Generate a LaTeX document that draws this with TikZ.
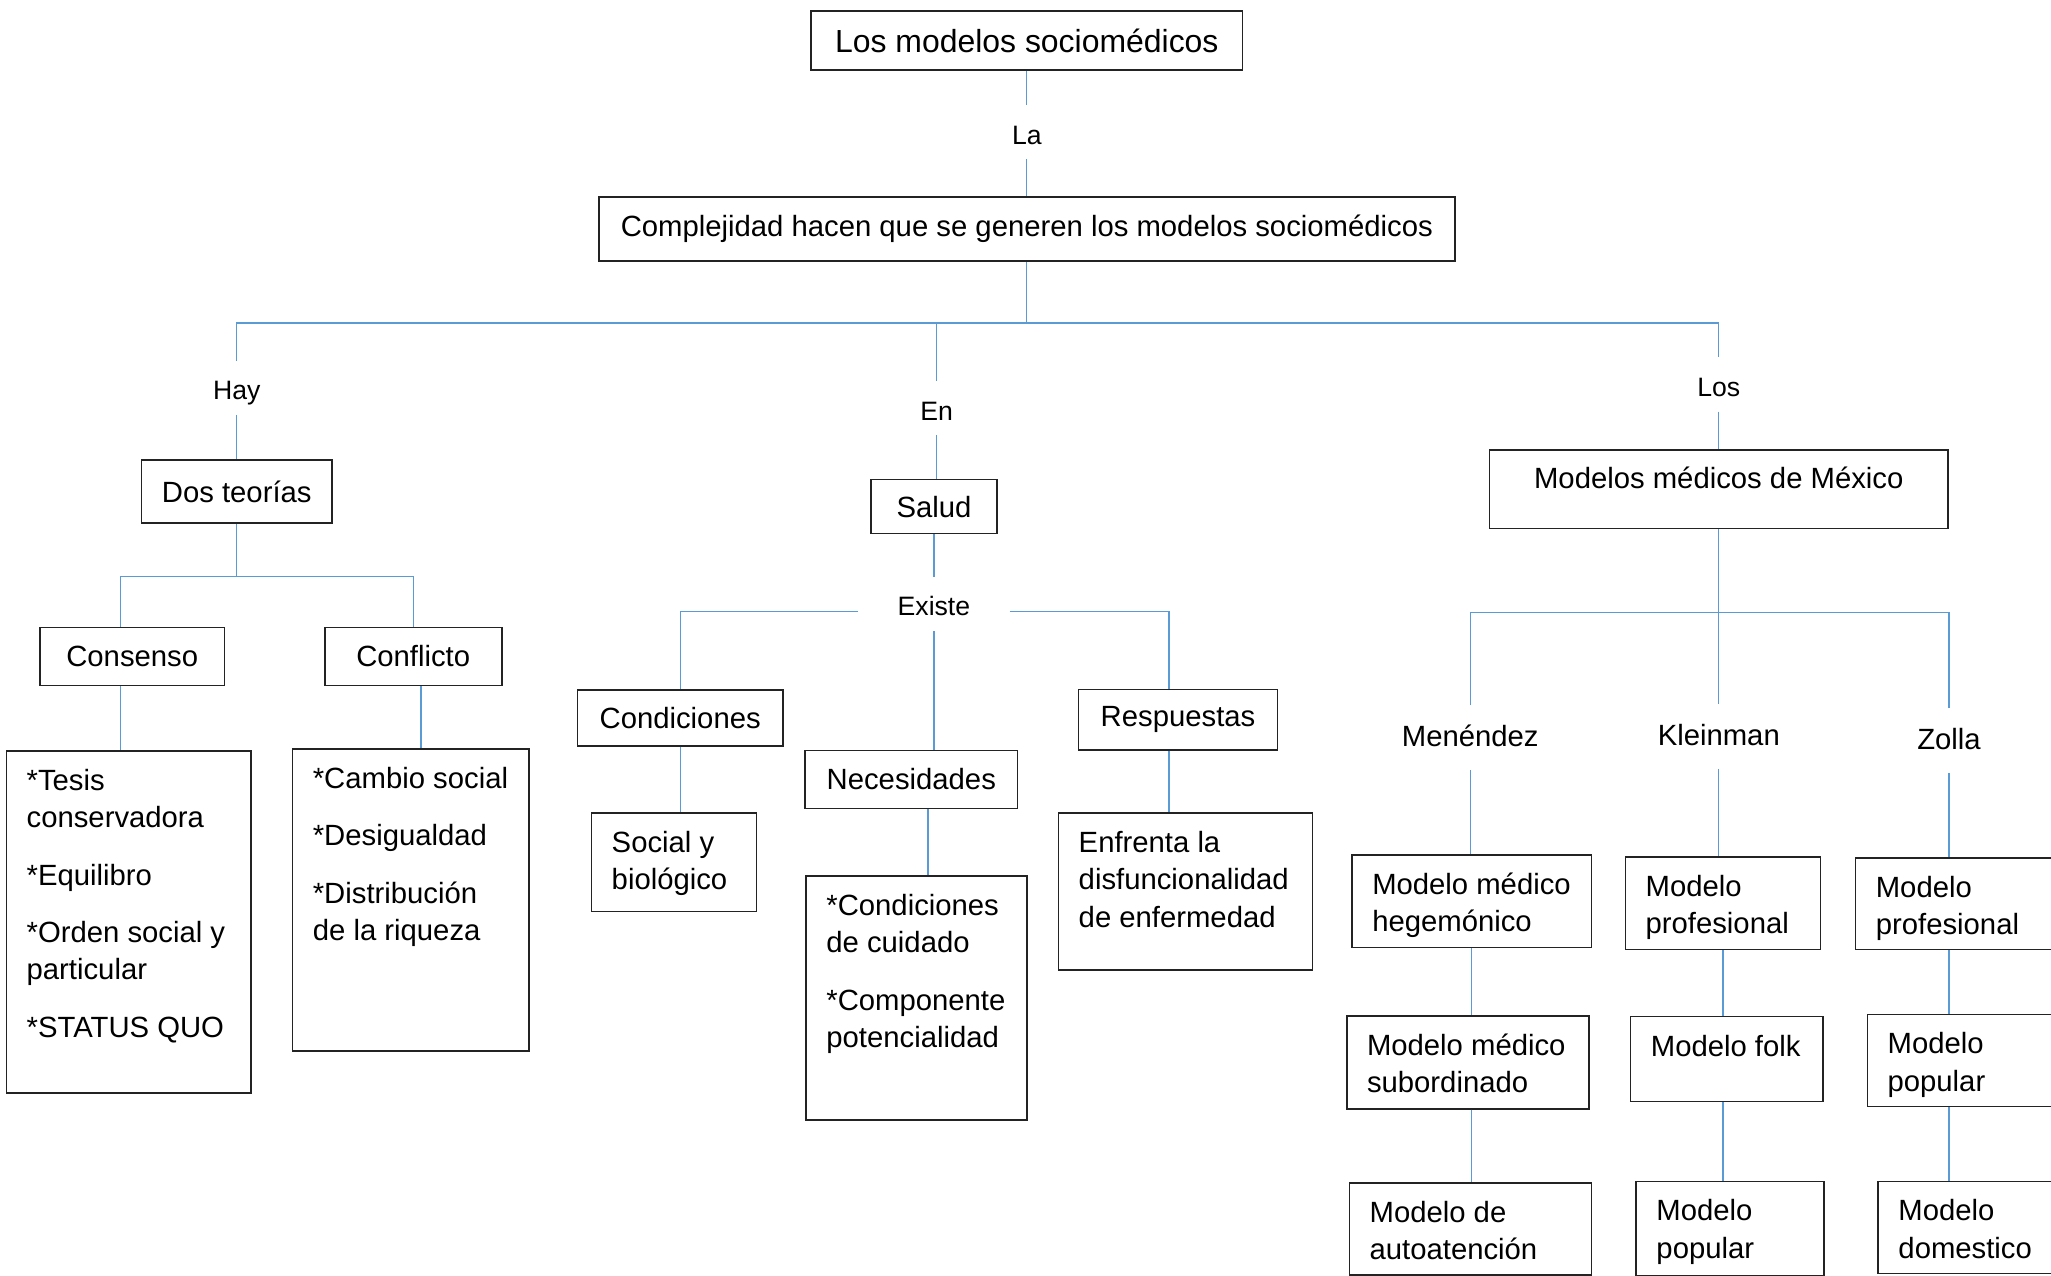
\documentclass[tikz,border=0pt]{standalone}
\usepackage{fontspec}
\setmainfont{Liberation Sans}
\definecolor{linkblue}{RGB}{91,155,213}
\definecolor{boxline}{RGB}{35,35,35}
\newcommand{\titlesize}{\fontsize{12}{14.4}\selectfont}
\newcommand{\boxsize}{\fontsize{11}{14}\selectfont}
\newcommand{\linksize}{\fontsize{10}{12}\selectfont}
% text set at the top of a box: height, width, lines
\newcommand{\boxtext}[3]{\parbox[t][#1][t]{#2}{\leftskip=7.6pt\rule{0pt}{14.8pt}#3}}
\tikzset{
    concept/.style={
        rectangle, draw=boxline, line width=0.6pt,
        inner sep=0pt, font=\boxsize
    },
    listbox/.style={concept, anchor=north west},
    link/.style={draw=linkblue, line width=0.5pt},
    linkword/.style={
        inner sep=0pt, minimum height=20pt,
        text height=9.3pt, text depth=0.2pt, font=\linksize
    },
    author/.style={
        inner sep=0pt, minimum height=24pt,
        text height=8.6pt, text depth=1.7pt, font=\boxsize
    }
}

\begin{document}
\begin{tikzpicture}[x=0.01728cm, y=-0.01728cm]
\useasboundingbox (0,0) rectangle (1568,975);

% Top of the map
\node[concept, minimum width=162.1pt, minimum height=22pt, font=\titlesize] (top) at (785,31) {Los modelos sociomédicos};
\node[linkword] (la) at (785,101) {La};
\node[concept, minimum width=321.6pt, minimum height=24.2pt] (cplx) at (785,175) {Complejidad hacen que se generen los modelos sociomédicos};
\coordinate (fork1) at (785,247);

\draw[link] (top) -- (la);
\draw[link] (la) -- (cplx);
\draw[link] (cplx) -- (fork1);

% Left branch: teorias
\node[linkword] (hay) at (181,296.5) {Hay};
\node[concept, minimum width=71.5pt, minimum height=23.7pt] (dos) at (181,375.7) {Dos teorías};
\coordinate (fork2) at (181,440.6);
\node[concept, minimum width=69.3pt, minimum height=21.7pt] (consenso) at (101.1,501.9) {Consenso};
\node[concept, minimum width=66.5pt, minimum height=21.7pt] (conflicto) at (315.9,501.9) {Conflicto};
\node[listbox] (tesis) at (4.3,573.5) {\boxtext{128.5pt}{91.8pt}{*Tesis\\conservadora\\[7.6pt]*Equilibro\\[7.6pt]*Orden social y\\particular\\[7.6pt]*STATUS QUO}};
\node[listbox] (cambio) at (223.1,571.9) {\boxtext{113.5pt}{88.9pt}{*Cambio social\\[7.6pt]*Desigualdad\\[7.6pt]*Distribución\\de la riqueza}};
\coordinate (cn) at ([xshift=-4.5pt]consenso.north);
\coordinate (cs) at ([xshift=-4.5pt]consenso.south);
\coordinate (fs) at ([xshift=2.9pt]conflicto.south);

\draw[link] (fork1) -| (hay);
\draw[link] (hay) -- (dos);
\draw[link] (dos) -- (fork2);
\draw[link] (fork2) -| (cn);
\draw[link] (fork2) -| (conflicto);
\draw[link] (cs) -- (cs |- tesis.north);
\draw[link] (fs) -- (fs |- cambio.north);

% Middle branch: salud
\node[linkword] (en) at (716,312) {En};
\node[concept, minimum width=47.2pt, minimum height=20.3pt] (salud) at (714,387.3) {Salud};
\node[linkword, minimum width=56.5pt] (existe) at (714,461.5) {Existe};
\coordinate (fork3) at (714,467.6);
\node[concept, minimum width=77.2pt, minimum height=21pt] (cond) at (520,548.9) {Condiciones};
\node[concept, minimum width=79.7pt, minimum height=21.8pt] (nec) at (696.7,595.8) {Necesidades};
\node[concept, minimum width=74.8pt, minimum height=22.6pt] (resp) at (900.6,550.2) {Respuestas};
\node[listbox] (social) at (451.6,621) {\boxtext{37pt}{62pt}{Social y\\biológico}};
\node[listbox] (cuidado) at (615.7,669.3) {\boxtext{91.5pt}{83pt}{*Condiciones\\de cuidado\\[7.6pt]*Componente\\potencialidad}};
\node[listbox] (enfrenta) at (808.6,621) {\boxtext{58.9pt}{95.5pt}{Enfrenta la\\disfuncionalidad\\de enfermedad}};
\coordinate (ns) at ([xshift=6.3pt]nec.south);
\coordinate (rn) at ([xshift=-3.4pt]resp.north);
\coordinate (rs) at ([xshift=-3.4pt]resp.south);

\draw[link] (en |- fork1) -- (en);
\draw[link] (en) -- (en |- salud.north);
\draw[link] (salud) -- (existe);
\draw[link] (existe.west |- fork3) -| (cond);
\draw[link] (existe.east |- fork3) -| (rn);
\draw[link] (existe) -- (existe |- nec.north);
\draw[link] (cond) -- (cond |- social.north);
\draw[link] (ns) -- (ns |- cuidado.north);
\draw[link] (rs) -- (rs |- enfrenta.north);

% Right branch: modelos medicos
\node[linkword] (los) at (1314,294) {Los};
\node[concept, anchor=north, minimum width=172.2pt, text height=14.4pt, text depth=15.1pt] (mexico) at (1314,343.3) {Modelos médicos de México};
\coordinate (fork4) at (1314,468);
\node[author] (menendez) at (1124,564) {Menéndez};
\node[author] (kleinman) at (1314,563) {Kleinman};
\node[author] (zolla) at (1490,566) {Zolla};

\node[listbox] (heg) at (1033,653) {\boxtext{34.7pt}{90pt}{Modelo médico\\hegemónico}};
\node[listbox] (sub) at (1029,776.3) {\boxtext{34.8pt}{91pt}{Modelo médico\\subordinado}};
\node[listbox] (autoat) at (1031,903.7) {\boxtext{34.5pt}{91pt}{Modelo de\\autoatención}};
\node[listbox] (prof1) at (1242,654.5) {\boxtext{34.8pt}{73.3pt}{Modelo\\profesional}};
\node[listbox] (folk) at (1246,776.6) {\boxtext{31.9pt}{72.3pt}{Modelo folk}};
\node[listbox] (pop1) at (1250.3,902.7) {\boxtext{35.5pt}{70.6pt}{Modelo\\popular}};
\node[listbox] (prof2) at (1418,655.2) {\boxtext{34.5pt}{90pt}{Modelo\\profesional}};
\node[listbox] (pop2) at (1427,775) {\boxtext{34.6pt}{90pt}{Modelo\\popular}};
\node[listbox] (dom) at (1435.3,902.7) {\boxtext{34.5pt}{90pt}{Modelo\\domestico}};

\draw[link] (fork1) -| (los);
\draw[link] (los) -- (mexico);
\draw[link] (mexico) -- (fork4);
\draw[link] (menendez) |- (fork4) -| (zolla);
\draw[link] (fork4) -- (kleinman);
\draw[link] (menendez) -- (menendez |- heg.north);
\draw[link] (heg) -- (heg |- sub.north);
\draw[link] (heg |- sub.south) -- (heg |- autoat.north);
\draw[link] (kleinman) -- (kleinman |- prof1.north);
\draw[link] (prof1) -- (prof1 |- folk.north);
\draw[link] (prof1 |- folk.south) -- (prof1 |- pop1.north);
\draw[link] (zolla) -- (zolla |- prof2.north);
\draw[link] (zolla |- prof2.south) -- (zolla |- pop2.north);
\draw[link] (zolla |- pop2.south) -- (zolla |- dom.north);

\end{tikzpicture}
\end{document}
